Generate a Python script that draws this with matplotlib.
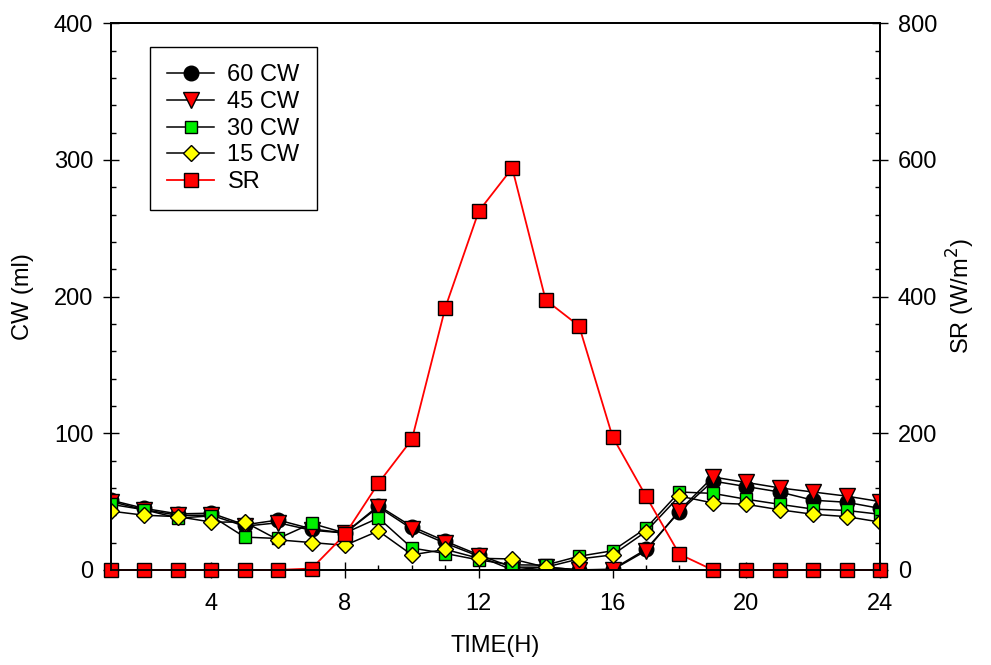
import matplotlib
matplotlib.use("Agg")
import matplotlib.pyplot as plt
from matplotlib.ticker import MultipleLocator

plt.rcParams['font.family'] = ['Liberation Sans', 'DejaVu Sans']

# Hourly readings
hours = list(range(1, 25))
cw60 = [51, 45, 41, 41.5, 33, 36.5, 30, 27, 47, 31.7, 21, 11, 2, 2, 0, 0.5,
        15, 42.6, 65, 61, 57, 51, 49.5, 45]
cw45 = [50, 44, 40, 40, 32, 34.5, 29, 27, 46, 30, 19.5, 10, 0, 2, 0, 0,
        14, 43.4, 68, 64, 60, 57, 54, 50]
cw30 = [48, 44, 38, 39.5, 24, 23, 34, 27, 38, 16, 12, 7.3, 3.7, 3.5, 10, 14,
        30.5, 57, 56, 51.7, 48, 44.5, 43.5, 40.7]
cw15 = [43, 40, 39, 35, 35, 22, 20, 18, 28.5, 11, 15, 8.5, 8, 2, 8, 11,
        28, 54, 49, 48, 44, 40.7, 39, 35]
sr = [0, 0, 0, 0, 0, 0, 2, 52, 127, 191, 384, 525, 588, 395, 357, 195,
      108, 23, 0, 0, 0, 0, 0, 0]

FS = 17

fig = plt.figure(figsize=(9.91, 6.65), dpi=100)
ax = fig.add_axes([0.112, 0.143, 0.776, 0.822])
ax2 = ax.twinx()

line_kw = dict(color='black', lw=1.1, markeredgecolor='black', markeredgewidth=1.0)
h60, = ax.plot(hours, cw60, marker='o', markersize=10.5, markerfacecolor='black',
               label='60 CW', **line_kw)
h45, = ax.plot(hours, cw45, marker='v', markersize=11, markerfacecolor='red',
               label='45 CW', **line_kw)
h30, = ax.plot(hours, cw30, marker='s', markersize=9, markerfacecolor='#00ee00',
               label='30 CW', **line_kw)
h15, = ax.plot(hours, cw15, marker='D', markersize=7.8, markerfacecolor='yellow',
               label='15 CW', **line_kw)
hsr, = ax2.plot(hours, sr, color='red', lw=1.3, marker='s', markersize=10.5,
                markerfacecolor='red', markeredgecolor='black', markeredgewidth=1.0,
                label='SR', clip_on=False)

ax.set_xlim(1, 24)
ax.set_ylim(0, 400)
ax2.set_ylim(0, 800)

ax.xaxis.set_major_locator(MultipleLocator(4))
ax.xaxis.set_minor_locator(MultipleLocator(1))
ax.yaxis.set_major_locator(MultipleLocator(100))
ax.yaxis.set_minor_locator(MultipleLocator(20))
ax2.yaxis.set_major_locator(MultipleLocator(200))
ax2.yaxis.set_minor_locator(MultipleLocator(40))

ax.tick_params(axis='both', which='major', direction='inout', length=11.5,
               width=1.0, labelsize=FS, top=False, right=False, pad=7)
ax.tick_params(axis='x', which='major', pad=11)
ax.tick_params(axis='both', which='minor', direction='in', length=3.6,
               width=1.0, top=False, right=False)
ax2.tick_params(axis='y', which='major', direction='inout', length=11.5,
                width=1.0, labelsize=FS, pad=7)
ax2.tick_params(axis='y', which='minor', direction='in', length=3.6, width=1.0)

for a in (ax, ax2):
    for s in a.spines.values():
        s.set_linewidth(1.3)

ax.set_xlabel('TIME(H)', fontsize=FS, va='center')
ax.set_ylabel('CW (ml)', fontsize=FS, va='center', ha='center')
ax2.set_ylabel('SR (W/m$^2$)', fontsize=FS, va='center', ha='center', rotation=90)
ax.xaxis.set_label_coords(0.5, -0.14)
ax.yaxis.set_label_coords(-0.115, 0.5)
ax2.yaxis.set_label_coords(1.105, 0.5)

leg = ax2.legend(handles=[h60, h45, h30, h15, hsr], loc='upper left',
                 bbox_to_anchor=(0.051, 0.956), borderaxespad=0, fontsize=FS,
                 frameon=True, fancybox=False, edgecolor='black', framealpha=1,
                 handlelength=2.0, labelspacing=0.2, borderpad=0.72,
                 handletextpad=0.55)
leg.get_frame().set_linewidth(1.0)

fig.savefig('out.png', dpi=100)
